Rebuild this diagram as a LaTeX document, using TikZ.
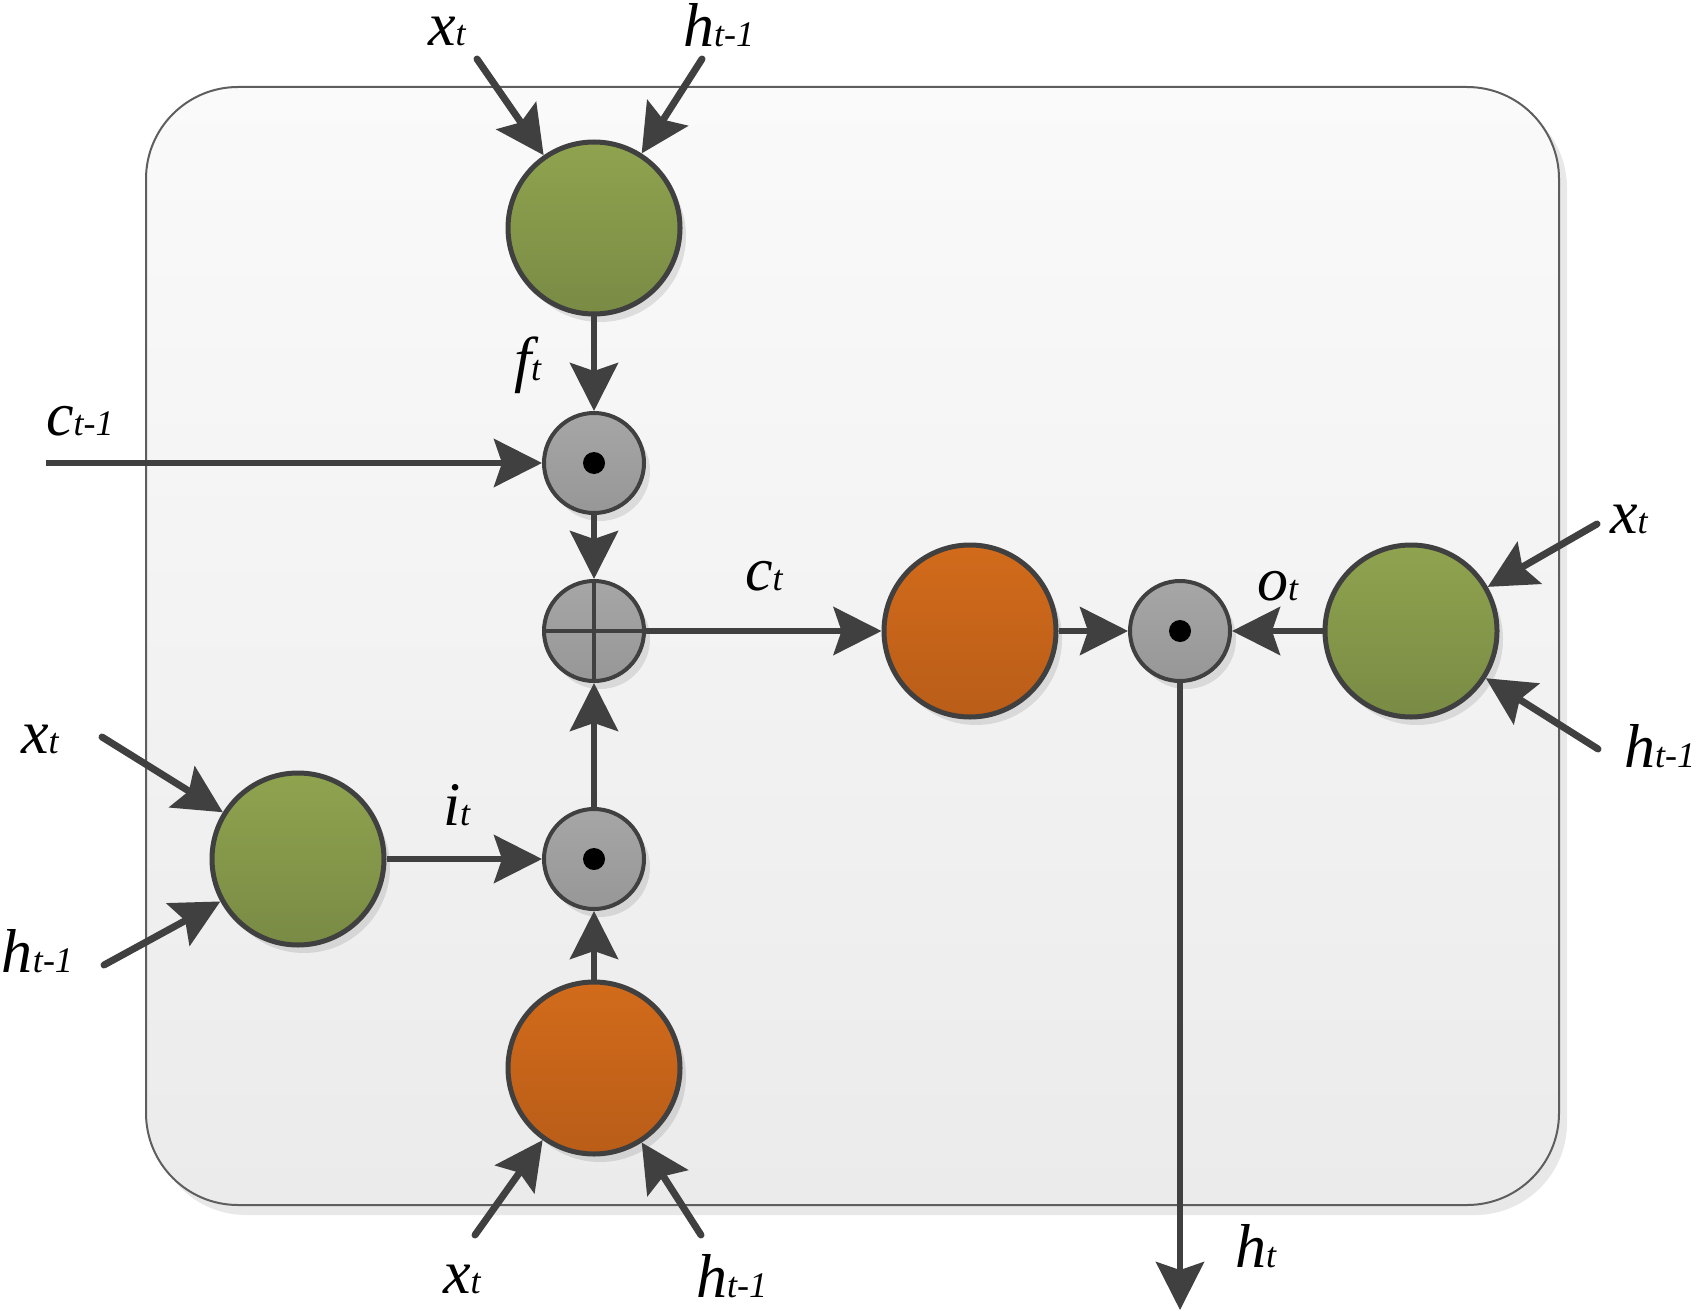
\documentclass[tikz,border=0pt]{standalone}
\usepackage{fontspec}
\setmainfont{Liberation Serif}
\usetikzlibrary{arrows.meta,shadows}
\definecolor{edgec}{HTML}{404040}
\definecolor{gtop}{HTML}{8FA34F}
\definecolor{gbot}{HTML}{798B44}
\definecolor{otop}{HTML}{D26B1B}
\definecolor{obot}{HTML}{B95D18}
\definecolor{qtop}{HTML}{A6A6A6}
\definecolor{qbot}{HTML}{979797}
\definecolor{boxtop}{HTML}{FAFAFA}
\definecolor{boxbot}{HTML}{EBEBEB}
\definecolor{boxline}{HTML}{5E5E5E}
\newcommand{\lb}[2]{{\fontsize{31}{31}\selectfont\itshape #1\fontsize{18}{18}\selectfont #2}}
\tikzset{
  bignode/.style={circle, draw=edgec, line width=2.5pt, minimum size=86pt, inner sep=0pt,
    drop shadow={shadow xshift=3pt, shadow yshift=-4pt, fill=black, opacity=0.1}},
  greennode/.style={bignode, top color=gtop, bottom color=gbot},
  orangenode/.style={bignode, top color=otop, bottom color=obot},
  gatenode/.style={circle, draw=edgec, line width=2pt, minimum size=50pt, inner sep=0pt,
    top color=qtop, bottom color=qbot,
    drop shadow={shadow xshift=3pt, shadow yshift=-4pt, fill=black, opacity=0.1}},
  lbl/.style={anchor=base west, inner sep=0pt, outer sep=0pt},
  outarrow/.style={draw=edgec, line width=3.5pt, line cap=round,
    -{Stealth[length=24pt,width=24pt,inset=4pt]}},
  inarrow/.style={draw=edgec, line width=3pt,
    -{Stealth[length=24pt,width=24pt,inset=4pt]}},
}
\begin{document}
\begin{tikzpicture}[x=0.5pt,y=-0.5pt]
\useasboundingbox (0,0) rectangle (1700,1310);
% cell box
\fill[black!9, rounded corners=46pt] (154,96) rectangle (1567,1215);
\path[draw=boxline, line width=1pt, top color=boxtop, bottom color=boxbot, rounded corners=46pt]
  (146,87) rectangle (1559,1205);

% nodes
\node[greennode] (fg) at (594,228) {};
\node[gatenode] (fgate) at (594,463) {};
\node[gatenode] (plus) at (594,631) {};
\node[gatenode] (igate) at (594,859) {};
\node[orangenode] (bo) at (594,1068) {};
\node[greennode] (lg) at (298,859) {};
\node[orangenode] (mo) at (970,631) {};
\node[gatenode] (ogate) at (1180,631) {};
\node[greennode] (rg) at (1411,631) {};

\fill[black] (fgate) circle[radius=5.5pt];
\fill[black] (igate) circle[radius=5.5pt];
\fill[black] (ogate) circle[radius=5.5pt];
\draw[edgec, line width=2pt] (plus.north) -- (plus.south);
\draw[edgec, line width=2pt] (plus.west) -- (plus.east);

% free ends
\coordinate (xa) at (477,59);
\coordinate (ha) at (702,59);
\coordinate (cprev) at (46,463);
\coordinate (xr) at (1597,524);
\coordinate (hr) at (1598,749);
\coordinate (xl) at (102,737);
\coordinate (hl) at (104,965);
\coordinate (xb) at (475,1235);
\coordinate (hb) at (701,1235);
\coordinate (hout) at (1180,1310);

% connectors
\draw[outarrow] (xa) -- (fg);
\draw[outarrow] (ha) -- (fg);
\draw[inarrow] (fg) -- (fgate);
\draw[inarrow] (cprev) -- (fgate);
\draw[inarrow] (fgate) -- (plus);
\draw[inarrow] (plus) -- (mo);
\draw[inarrow] (mo) -- (ogate);
\draw[inarrow] (rg) -- (ogate);
\draw[outarrow] (xr) -- (rg);
\draw[outarrow] (hr) -- (rg);
\draw[inarrow] (ogate) -- (hout);
\draw[outarrow] (xl) -- (lg);
\draw[outarrow] (hl) -- (lg);
\draw[inarrow] (lg) -- (igate);
\draw[inarrow] (bo) -- (igate);
\draw[inarrow] (igate) -- (plus);
\draw[outarrow] (xb) -- (bo);
\draw[outarrow] (hb) -- (bo);

% labels
\node[lbl] (lxa) at (428,46) {\lb{x}{t}};
\node[lbl] (lha) at (683,47) {\lb{h}{t-1}};
\node[lbl] (lf) at (514,380) {\lb{f}{t}};
\node[lbl] (lc) at (46,435) {\lb{c}{t-1}};
\node[lbl] (lct) at (745,590) {\lb{c}{t}};
\node[lbl] (lo) at (1257,600) {\lb{o}{t}};
\node[lbl] (lxr) at (1610,533) {\lb{x}{t}};
\node[lbl] (lhr) at (1624,767) {\lb{h}{t-1}};
\node[lbl] (lxl) at (21,753) {\lb{x}{t}};
\node[lbl] (lhl) at (2,972) {\lb{h}{t-1}};
\node[lbl] (li) at (443,825) {\lb{i}{t}};
\node[lbl] (lxb) at (443,1293) {\lb{x}{t}};
\node[lbl] (lhb) at (696,1297) {\lb{h}{t-1}};
\node[lbl] (lht) at (1235,1267) {\lb{h}{t}};
\end{tikzpicture}
\end{document}
